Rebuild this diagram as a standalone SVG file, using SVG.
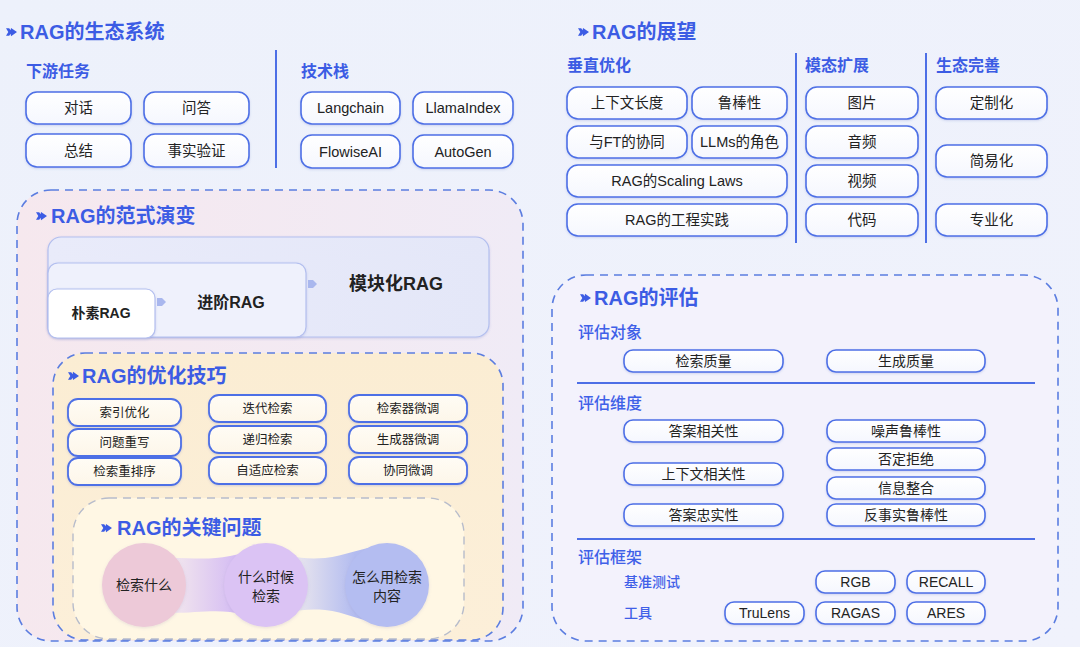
<svg xmlns="http://www.w3.org/2000/svg" width="1080" height="647" viewBox="0 0 1080 647">
<defs>
<linearGradient id="bg" x1="0" y1="0" x2="1" y2="1"><stop offset="0" stop-color="#edf1fb"/><stop offset="1" stop-color="#f0f2fc"/></linearGradient>
<linearGradient id="boxg" x1="0" y1="0" x2="0" y2="1"><stop offset="0" stop-color="#ffffff"/><stop offset="1" stop-color="#f5f7fe"/></linearGradient>
<linearGradient id="creamg" x1="0" y1="0" x2="0" y2="1"><stop offset="0" stop-color="#fffcf5"/><stop offset="1" stop-color="#fdf6e9"/></linearGradient>
<linearGradient id="pinkg" x1="0" y1="0" x2="1" y2="0"><stop offset="0" stop-color="#f6e8ee"/><stop offset="1" stop-color="#f0ebf6"/></linearGradient>
<linearGradient id="peachg" x1="0" y1="0" x2="0" y2="1"><stop offset="0" stop-color="#fbedd3"/><stop offset="1" stop-color="#fcefd9"/></linearGradient>
<linearGradient id="modg" x1="0" y1="0" x2="1" y2="0"><stop offset="0" stop-color="#e9ebfa"/><stop offset="1" stop-color="#e4e7f8"/></linearGradient>
<linearGradient id="band1" x1="180" y1="0" x2="235" y2="0" gradientUnits="userSpaceOnUse"><stop offset="0" stop-color="#efe2ee"/><stop offset="1" stop-color="#d5bdf3"/></linearGradient>
<linearGradient id="band2" x1="300" y1="0" x2="355" y2="0" gradientUnits="userSpaceOnUse"><stop offset="0" stop-color="#e6e3ee"/><stop offset="1" stop-color="#b3bcf0"/></linearGradient>
<filter id="sh" x="-10%" y="-20%" width="120%" height="150%"><feDropShadow dx="0" dy="1" stdDeviation="1.2" flood-color="#5a6fc0" flood-opacity="0.25"/></filter>
<filter id="csh" x="-20%" y="-20%" width="140%" height="140%"><feDropShadow dx="0" dy="1" stdDeviation="1.5" flood-color="#8a80b0" flood-opacity="0.2"/></filter>
<symbol id="arr" viewBox="0 0 12 10" overflow="visible"><path d="M0,1 L3.5,1 L5,3 L5.5,0.5 L12,5 L5.5,9.5 L5,7 L3.5,9 L0,9 L2.5,5 Z" fill="#3c5ce4"/></symbol>
<style>
.bx{fill:url(#boxg);stroke:#4d6fe6;stroke-width:1.6;filter:url(#sh)}
.bc{fill:url(#creamg);stroke:#4d6fe6;stroke-width:1.8;filter:url(#sh)}
.t{font-family:"Liberation Sans","Noto Sans CJK SC",sans-serif;fill:#222;text-anchor:middle;dominant-baseline:central;font-size:14.5px}
.s{font-size:12.5px}
.e{font-size:14px}
.h1{font-family:"Liberation Sans","Noto Sans CJK SC",sans-serif;font-size:20px;font-weight:bold;fill:#3c5ce4;dominant-baseline:central}
.h2{font-family:"Liberation Sans","Noto Sans CJK SC",sans-serif;font-size:16px;font-weight:bold;fill:#3c5ce4;dominant-baseline:central}
.h3{font-family:"Liberation Sans","Noto Sans CJK SC",sans-serif;font-size:16px;font-weight:500;fill:#3f60e8;dominant-baseline:central}
.h4{font-family:"Liberation Sans","Noto Sans CJK SC",sans-serif;font-size:14px;font-weight:500;fill:#3f60e8;dominant-baseline:central}
.dv{stroke:#4d6fe6;stroke-width:2}
.dash{stroke:#5b7de0;stroke-width:1.6;stroke-dasharray:8 6}
.para{stroke:#b3bfef;stroke-width:1.2}
.b{font-weight:bold}
.ct{font-size:14px}
</style>
</defs>
<rect width="1080" height="647" fill="url(#bg)"/>

<!-- Ecosystem -->
<g id="ecosystem">
<use href="#arr" x="6" y="27" width="11" height="10"/>
<text class="h1" x="20" y="32">RAG的生态系统</text>
<text class="h2" x="26" y="71">下游任务</text>
<text class="h2" x="301" y="71">技术栈</text>
<line class="dv" x1="276" y1="50" x2="276" y2="168"/>
</g>
<g id="n-duihua"><rect class="bx" x="26" y="92" width="105" height="32" rx="11"/><text class="t" x="78.5" y="108">对话</text></g>
<g id="n-wenda"><rect class="bx" x="144" y="92" width="105" height="32" rx="11"/><text class="t" x="196.5" y="108">问答</text></g>
<g id="n-zongjie"><rect class="bx" x="26" y="134" width="105" height="33" rx="11"/><text class="t" x="78.5" y="150.5">总结</text></g>
<g id="n-shishi"><rect class="bx" x="144" y="134" width="105" height="33" rx="11"/><text class="t" x="196.5" y="150.5">事实验证</text></g>
<g id="n-langchain"><rect class="bx" x="301" y="92" width="99" height="32" rx="11"/><text class="t" x="350.5" y="108">Langchain</text></g>
<g id="n-llamaindex"><rect class="bx" x="413" y="92" width="100" height="32" rx="11"/><text class="t" x="463" y="108">LlamaIndex</text></g>
<g id="n-flowise"><rect class="bx" x="301" y="135" width="99" height="33" rx="11"/><text class="t" x="350.5" y="151.5">FlowiseAI</text></g>
<g id="n-autogen"><rect class="bx" x="413" y="135" width="100" height="33" rx="11"/><text class="t" x="463" y="151.5">AutoGen</text></g>

<!-- Outlook -->
<g id="outlook">
<use href="#arr" x="578" y="27" width="11" height="10"/>
<text class="h1" x="592" y="32">RAG的展望</text>
<text class="h2" x="567" y="65">垂直优化</text>
<text class="h2" x="805" y="65">模态扩展</text>
<text class="h2" x="936" y="65">生态完善</text>
<line class="dv" x1="796" y1="53" x2="796" y2="243"/>
<line class="dv" x1="926" y1="53" x2="926" y2="243"/>
</g>
<g id="n-ctxlen"><rect class="bx" x="567" y="87" width="120" height="32" rx="11"/><text class="t" x="627" y="103">上下文长度</text></g>
<g id="n-robust"><rect class="bx" x="692" y="87" width="95" height="32" rx="11"/><text class="t" x="739.5" y="103">鲁棒性</text></g>
<g id="n-ft"><rect class="bx" x="567" y="126" width="120" height="32" rx="11"/><text class="t" x="627" y="142">与FT的协同</text></g>
<g id="n-llms"><rect class="bx" x="692" y="126" width="95" height="32" rx="11"/><text class="t" x="739.5" y="142">LLMs的角色</text></g>
<g id="n-scaling"><rect class="bx" x="567" y="165" width="220" height="32" rx="11"/><text class="t" x="677" y="181">RAG的Scaling Laws</text></g>
<g id="n-eng"><rect class="bx" x="567" y="204" width="220" height="32" rx="11"/><text class="t" x="677" y="220">RAG的工程实践</text></g>
<g id="n-img"><rect class="bx" x="806" y="87" width="112" height="32" rx="11"/><text class="t" x="862" y="103">图片</text></g>
<g id="n-audio"><rect class="bx" x="806" y="126" width="112" height="32" rx="11"/><text class="t" x="862" y="142">音频</text></g>
<g id="n-video"><rect class="bx" x="806" y="165" width="112" height="32" rx="11"/><text class="t" x="862" y="181">视频</text></g>
<g id="n-code"><rect class="bx" x="806" y="204" width="112" height="32" rx="11"/><text class="t" x="862" y="220">代码</text></g>
<g id="n-custom"><rect class="bx" x="936" y="87" width="111" height="32" rx="11"/><text class="t" x="991.5" y="103">定制化</text></g>
<g id="n-simple"><rect class="bx" x="936" y="145" width="111" height="32" rx="11"/><text class="t" x="991.5" y="161">简易化</text></g>
<g id="n-pro"><rect class="bx" x="936" y="204" width="111" height="32" rx="11"/><text class="t" x="991.5" y="220">专业化</text></g>

<!-- Paradigm -->
<g id="paradigm">
<rect class="dash" x="17" y="190" width="506" height="451" rx="34" fill="url(#pinkg)"/>
<use href="#arr" x="36" y="211" width="11" height="10"/>
<text class="h1" x="51" y="216">RAG的范式演变</text>
</g>
<g id="n-modular"><rect class="para" x="48" y="237" width="441" height="100" rx="13" fill="url(#modg)" filter="url(#sh)"/><text class="t b" x="396" y="284" style="font-size:18px">模块化RAG</text></g>
<g id="n-advanced"><rect class="para" x="48" y="263" width="258" height="74" rx="10" fill="#eff1fc" filter="url(#sh)"/><text class="t b" x="231" y="302" style="font-size:16px">进阶RAG</text></g>
<g id="n-naive"><rect class="para" x="48" y="289" width="107" height="49" rx="9" fill="#ffffff" filter="url(#sh)"/><text class="t b" x="101" y="313" style="font-size:14px">朴素RAG</text></g>

<!-- Optimization -->
<g id="optimization">
<rect class="dash" x="53" y="353" width="450" height="287" rx="32" fill="url(#peachg)"/>
<use href="#arr" x="68" y="371" width="11" height="10"/>
<text class="h1" x="82" y="376">RAG的优化技巧</text>
</g>
<g id="n-idx"><rect class="bc" x="68" y="399" width="113" height="27" rx="10"/><text class="t s" x="124.5" y="412.5">索引优化</text></g>
<g id="n-rewrite"><rect class="bc" x="68" y="429" width="113" height="27" rx="10"/><text class="t s" x="124.5" y="442.5">问题重写</text></g>
<g id="n-rerank"><rect class="bc" x="68" y="458" width="113" height="27" rx="10"/><text class="t s" x="124.5" y="471.5">检索重排序</text></g>
<g id="n-iter"><rect class="bc" x="209" y="395" width="117" height="27" rx="10"/><text class="t s" x="267.5" y="408.5">迭代检索</text></g>
<g id="n-recur"><rect class="bc" x="209" y="426" width="117" height="27" rx="10"/><text class="t s" x="267.5" y="439.5">递归检索</text></g>
<g id="n-adapt"><rect class="bc" x="209" y="457" width="117" height="27" rx="10"/><text class="t s" x="267.5" y="470.5">自适应检索</text></g>
<g id="n-rft"><rect class="bc" x="349" y="395" width="118" height="27" rx="10"/><text class="t s" x="408" y="408.5">检索器微调</text></g>
<g id="n-gft"><rect class="bc" x="349" y="426" width="118" height="27" rx="10"/><text class="t s" x="408" y="439.5">生成器微调</text></g>
<g id="n-cft"><rect class="bc" x="349" y="457" width="118" height="27" rx="10"/><text class="t s" x="408" y="470.5">协同微调</text></g>

<!-- Key questions -->
<g id="keyq">
<rect x="73" y="498" width="391" height="141" rx="36" fill="#fff7e4" stroke="#b7bccb" stroke-width="1.4" stroke-dasharray="8 6"/>
<use href="#arr" x="101" y="523" width="11" height="10"/>
<text class="h1" x="117" y="528">RAG的关键问题</text>
</g>

<g id="connectors">
<path d="M157,298 L162,298 L166,302 L162,306 L157,306 Z" fill="#a9b7ee"/>
<path d="M308,280 L313,280 L317,284 L313,288 L308,288 Z" fill="#a9b7ee"/>
<path d="M170,558 C195,558 210,560 230,556 C245,553 255,552 267,552 L267,618 C255,618 245,614 230,612 C210,610 195,613 170,613 Z" fill="url(#band1)"/>
<path d="M290,556 C300,558 310,559 325,558 C345,556 360,548 380,546 L380,623 C360,621 345,612 325,610 C310,609 300,610 290,612 Z" fill="url(#band2)"/>
</g>

<g id="n-what"><circle cx="144" cy="585" r="42" fill="#edc9d8" filter="url(#csh)"/><text class="t ct" x="144" y="585">检索什么</text></g>
<g id="n-when"><circle cx="266" cy="585" r="42" fill="#dbc3f4" filter="url(#csh)"/><text class="t ct" x="266" y="577">什么时候</text><text class="t ct" x="266" y="596">检索</text></g>
<g id="n-how"><circle cx="387" cy="585" r="42" fill="#b4bdf1" filter="url(#csh)"/><text class="t ct" x="387" y="577">怎么用检索</text><text class="t ct" x="387" y="596">内容</text></g>

<!-- Evaluation -->
<g id="evaluation">
<rect class="dash" x="552" y="275" width="506" height="366" rx="34" fill="#f3f2fc"/>
<use href="#arr" x="580" y="293" width="11" height="10"/>
<text class="h1" x="594" y="298">RAG的评估</text>
<text class="h3" x="578" y="332">评估对象</text>
<line class="dv" x1="577" y1="383" x2="1035" y2="383"/>
<text class="h3" x="578" y="403">评估维度</text>
<line class="dv" x1="577" y1="539" x2="1035" y2="539"/>
<text class="h3" x="578" y="557">评估框架</text>
<text class="h4" x="624" y="582">基准测试</text>
<text class="h4" x="624" y="613">工具</text>
</g>
<g id="n-rq"><rect class="bx" x="624" y="350" width="159" height="22" rx="9"/><text class="t e" x="703.5" y="361">检索质量</text></g>
<g id="n-gq"><rect class="bx" x="827" y="350" width="158" height="22" rx="9"/><text class="t e" x="906" y="361">生成质量</text></g>
<g id="n-ar"><rect class="bx" x="624" y="420" width="159" height="22" rx="9"/><text class="t e" x="703.5" y="431">答案相关性</text></g>
<g id="n-cr"><rect class="bx" x="624" y="463" width="159" height="22" rx="9"/><text class="t e" x="703.5" y="474">上下文相关性</text></g>
<g id="n-af"><rect class="bx" x="624" y="504" width="159" height="22" rx="9"/><text class="t e" x="703.5" y="515">答案忠实性</text></g>
<g id="n-nr"><rect class="bx" x="827" y="420" width="158" height="22" rx="9"/><text class="t e" x="906" y="431">噪声鲁棒性</text></g>
<g id="n-nrj"><rect class="bx" x="827" y="448" width="158" height="22" rx="9"/><text class="t e" x="906" y="459">否定拒绝</text></g>
<g id="n-ii"><rect class="bx" x="827" y="477" width="158" height="22" rx="9"/><text class="t e" x="906" y="488">信息整合</text></g>
<g id="n-cfr"><rect class="bx" x="827" y="504" width="158" height="22" rx="9"/><text class="t e" x="906" y="515">反事实鲁棒性</text></g>
<g id="n-rgb"><rect class="bx" x="816" y="571" width="79" height="22" rx="9"/><text class="t e" x="855.5" y="582">RGB</text></g>
<g id="n-recall"><rect class="bx" x="907" y="571" width="78" height="22" rx="9"/><text class="t e" x="946" y="582">RECALL</text></g>
<g id="n-trulens"><rect class="bx" x="725" y="602" width="79" height="22" rx="9"/><text class="t e" x="764.5" y="613">TruLens</text></g>
<g id="n-ragas"><rect class="bx" x="816" y="602" width="79" height="22" rx="9"/><text class="t e" x="855.5" y="613">RAGAS</text></g>
<g id="n-ares"><rect class="bx" x="907" y="602" width="78" height="22" rx="9"/><text class="t e" x="946" y="613">ARES</text></g>
</svg>
